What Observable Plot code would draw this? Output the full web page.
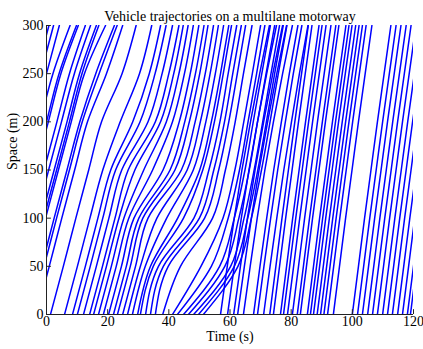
<!DOCTYPE html>
<html>
<head>
<meta charset="utf-8">
<script src="https://cdn.jsdelivr.net/npm/d3@7"></script>
<script src="https://cdn.jsdelivr.net/npm/@observablehq/plot@0.6"></script>
<style>
  html, body { margin: 0; padding: 0; background: white; }
</style>
</head>
<body>
<div id="chart"></div>
<script>
const title = "Vehicle trajectories on a multilane motorway";
const xLabel = "Time (s)";
const yLabel = "Space (m)";
const xTicks = [0, 20, 40, 60, 80, 100, 120];
const yTicks = [0, 50, 100, 150, 200, 250, 300];

// Space stations (m) at which each vehicle's passage time (s) is read
const stations = [0, 50, 100, 150, 200, 250, 300];

// Vehicles already on the road at t = 0
const preexisting = [
  [-24.2, -20.0, -15.9, -11.7, -7.5, -3.4, 0.8],
  [-22.7, -18.5, -14.4, -10.2, -6.0, -1.9, 2.3],
  [-20.8, -16.6, -12.5, -8.3, -4.1, 0.0, 4.2],
  [-18.8, -14.6, -10.4, -6.3, -2.1, 2.1, 7.7],
  [-16.7, -12.5, -8.4, -4.2, 0.0, 4.1, 9.8],
  [-16.1, -11.9, -7.8, -3.6, 0.6, 4.7, 10.4],
  [-13.3, -9.1, -5.0, -0.8, 3.4, 7.5, 12.7],
  [-11.8, -7.6, -3.4, 0.7, 4.9, 9.1, 14.4],
  [-10.0, -5.8, -1.7, 2.5, 6.7, 10.8, 16.3],
  [-9.2, -5.0, -0.9, 3.3, 7.5, 11.6, 17.1],
  [-8.6, -4.4, -0.3, 3.9, 8.1, 12.4, 19.3],
  [-5.8, -1.6, 2.5, 6.7, 10.9, 16.1, 22.2],
  [-5.0, -0.8, 3.3, 7.5, 11.7, 17.2, 23.1],
  [-3.3, 0.9, 5.0, 9.2, 13.4, 19.6, 24.9]
];

// Vehicles caught in the backward-moving slowdown wave
const queued = [
  [1.3, 5.5, 9.6, 13.8, 18.0, 24.7, 29.3],
  [5.9, 10.1, 14.2, 18.4, 24.1, 30.4, 34.4],
  [8.5, 12.7, 16.8, 21.0, 28.2, 33.6, 37.3],
  [10.1, 14.3, 18.4, 22.6, 30.6, 35.5, 39.1],
  [12.1, 16.3, 20.4, 24.6, 33.2, 37.8, 41.2],
  [14.1, 18.3, 22.4, 26.7, 35.6, 40.0, 43.3],
  [15.4, 19.6, 23.7, 28.9, 37.3, 41.6, 44.7],
  [17.0, 21.2, 25.3, 31.8, 39.2, 43.3, 46.3],
  [18.6, 22.8, 26.9, 34.7, 41.2, 45.1, 48.0],
  [20.3, 24.5, 28.6, 38.1, 43.4, 47.0, 49.8],
  [21.9, 26.1, 30.2, 40.4, 45.2, 48.7, 51.5],
  [23.2, 27.4, 31.5, 42.0, 46.7, 50.1, 52.8],
  [24.9, 29.1, 33.2, 44.1, 48.6, 51.9, 54.6],
  [26.5, 30.7, 36.1, 46.0, 50.3, 53.5, 56.2],
  [28.1, 32.3, 39.3, 48.0, 52.1, 55.2, 57.9],
  [29.8, 34.0, 42.9, 50.1, 53.9, 56.9, 59.6],
  [30.7, 34.9, 44.8, 51.1, 54.9, 57.8, 60.5],
  [32.4, 36.6, 48.2, 53.1, 56.7, 59.4, 62.2],
  [34.0, 38.2, 50.0, 54.7, 58.2, 60.9, 63.7],
  [35.6, 39.8, 51.7, 56.3, 59.6, 62.4, 65.1],
  [38.0, 43.8, 54.3, 58.5, 61.7, 64.4, 67.2],
  [41.2, 50.5, 57.7, 61.6, 64.5, 67.3, 70.0],
  [42.8, 53.9, 59.4, 63.1, 65.9, 68.7, 71.4],
  [44.8, 56.6, 61.4, 64.9, 67.6, 70.4, 73.2],
  [46.4, 58.3, 62.9, 66.3, 69.0, 71.8, 74.6],
  [48.1, 60.2, 64.6, 67.9, 70.7, 73.4, 76.2],
  [49.7, 61.4, 65.8, 69.1, 71.9, 74.6, 77.4],
  [51.3, 62.6, 67.0, 70.3, 73.1, 75.8, 78.6]
];

// Vehicles in free flow after the wave
const freeflow = [
  [56.9, 59.1, 61.4, 63.9, 66.7, 69.7, 72.9],
  [59.2, 61.4, 63.7, 66.2, 69.0, 72.0, 75.2],
  [61.2, 63.4, 65.7, 68.2, 71.0, 74.0, 77.2],
  [62.5, 64.7, 67.0, 69.5, 72.3, 75.3, 78.5],
  [64.4, 66.6, 68.9, 71.4, 74.2, 77.2, 80.4],
  [67.7, 69.8, 72.0, 74.3, 76.8, 79.4, 82.2],
  [69.0, 71.1, 73.3, 75.6, 78.1, 80.7, 83.5],
  [71.0, 73.1, 75.3, 77.6, 80.1, 82.7, 85.5],
  [73.0, 75.0, 77.0, 79.1, 81.2, 83.4, 85.6],
  [74.2, 76.2, 78.2, 80.3, 82.4, 84.6, 86.8],
  [76.5, 78.5, 80.5, 82.6, 84.7, 86.9, 89.1],
  [77.5, 79.5, 81.5, 83.6, 85.7, 87.9, 90.1],
  [78.8, 80.8, 82.8, 84.9, 87.0, 89.2, 91.4],
  [80.4, 82.4, 84.4, 86.5, 88.6, 90.8, 93.0],
  [82.0, 84.0, 86.0, 88.1, 90.2, 92.4, 94.6],
  [83.0, 85.0, 87.0, 89.1, 91.2, 93.4, 95.6],
  [85.3, 87.3, 89.3, 91.4, 93.5, 95.7, 97.9],
  [86.3, 88.3, 90.3, 92.4, 94.5, 96.7, 98.9],
  [87.3, 89.3, 91.3, 93.4, 95.5, 97.7, 99.9],
  [88.5, 90.5, 92.5, 94.6, 96.7, 98.9, 101.1],
  [89.6, 91.6, 93.6, 95.7, 97.8, 100.0, 102.2],
  [90.7, 92.7, 94.7, 96.8, 98.9, 101.1, 103.3],
  [91.9, 93.9, 95.9, 98.0, 100.1, 102.3, 104.5],
  [93.8, 95.8, 97.8, 99.9, 102.0, 104.2, 106.4],
  [100.0, 102.0, 104.0, 106.1, 108.2, 110.4, 112.6],
  [101.7, 103.7, 105.7, 107.8, 109.9, 112.1, 114.3],
  [103.3, 105.3, 107.3, 109.4, 111.5, 113.7, 115.9],
  [105.0, 107.0, 109.0, 111.1, 113.2, 115.4, 117.6],
  [106.6, 108.6, 110.6, 112.7, 114.8, 117.0, 119.2],
  [108.2, 110.2, 112.2, 114.3, 116.4, 118.6, 120.8],
  [109.9, 111.9, 113.9, 116.0, 118.1, 120.3, 122.5],
  [111.5, 113.5, 115.5, 117.6, 119.7, 121.9, 124.1],
  [113.1, 115.1, 117.1, 119.2, 121.3, 123.5, 125.7],
  [114.8, 116.8, 118.8, 120.9, 123.0, 125.2, 127.4],
  [116.4, 118.4, 120.4, 122.5, 124.6, 126.8, 129.0],
  [118.0, 120.0, 122.0, 124.1, 126.2, 128.4, 130.6],
  [119.0, 121.0, 123.0, 125.1, 127.2, 129.4, 131.6]
];

const vehicles = [...preexisting, ...queued, ...freeflow];
const points = vehicles.flatMap((times, id) =>
  times.map((t, j) => ({id, t, s: stations[j]}))
);

const chart = Plot.plot({
  width: 423,
  height: 349,
  marginTop: 25,
  marginBottom: 35,
  marginLeft: 46,
  marginRight: 10,
  style: {fontFamily: "Liberation Serif", fontSize: "14px", background: "white", color: "black"},
  x: {domain: [0, 120]},
  y: {domain: [0, 300]},
  marks: [
    Plot.line(points, {x: "t", y: "s", z: "id", stroke: "#0000ff", strokeWidth: 1.5, curve: "monotone-y", clip: true}),
    Plot.ruleX([0], {stroke: "#222"}),
    Plot.ruleY([0], {stroke: "#222"}),
    Plot.ruleX(xTicks, {x: d => d, y1: 0, y2: 5, stroke: "#222"}),
    Plot.ruleY(yTicks, {y: d => d, x1: 0, x2: 1.6, stroke: "#222"}),
    Plot.axisX({ticks: xTicks, tickSize: 0, tickPadding: 2, label: null, fontSize: 14}),
    Plot.axisY({ticks: yTicks, tickSize: 0, tickPadding: 3, label: null, fontSize: 14}),
    Plot.text([title], {frameAnchor: "top", dy: -14, fontSize: 14}),
    Plot.text([xLabel], {frameAnchor: "bottom", dy: 26, fontSize: 14}),
    Plot.text([yLabel], {frameAnchor: "left", dx: -34, rotate: -90, fontSize: 14})
  ]
});
document.getElementById("chart").appendChild(chart);
</script>
</body>
</html>
